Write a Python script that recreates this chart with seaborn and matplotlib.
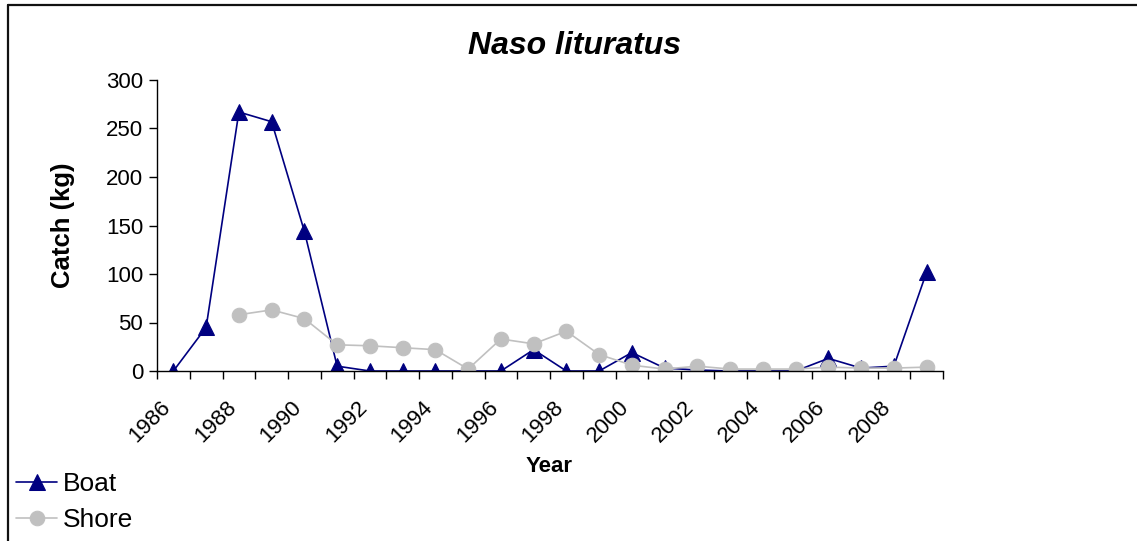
#!/usr/bin/env python3
import matplotlib
matplotlib.use("Agg")
import matplotlib.pyplot as plt
import matplotlib.transforms as mtransforms
import numpy as np
import pandas as pd
import seaborn as sns
from matplotlib.lines import Line2D

# Catch by year (kg)
years = list(range(1986, 2010))
boat = [0, 45, 267, 257, 144, 5, 0, 0, 0, 0, 0, 22, 0, 0, 19, 3, 1, 0, 0, 0, 13, 3, 5, 102]
shore_years = list(range(1988, 2010))
shore = [58, 63, 54, 27, 26, 24, 22, 2, 33, 28, 41, 17, 6, 2, 5, 2, 2, 2, 4, 3, 3, 4]

sns.set_theme(style="white")
plt.rcParams['font.family'] = ['Liberation Sans', 'DejaVu Sans']
plt.rcParams['text.color'] = 'black'
plt.rcParams['axes.labelcolor'] = 'black'
plt.rcParams['xtick.color'] = 'black'
plt.rcParams['ytick.color'] = 'black'

W, H = 1137, 541
boat_df = pd.DataFrame({"pos": [y - years[0] for y in years], "catch": boat})
shore_df = pd.DataFrame({"pos": [y - years[0] for y in shore_years], "catch": shore})

fig = plt.figure(figsize=(W / 100, H / 100), dpi=100)
ax = fig.add_axes([157 / W, 1 - 371 / H, (943 - 157) / W, (371 - 80) / H])

sns.lineplot(data=boat_df, x="pos", y="catch", ax=ax, color="#000080", marker="^",
             markersize=12, markeredgecolor="#000080", linewidth=1.2, label="Boat")
sns.lineplot(data=shore_df, x="pos", y="catch", ax=ax, color="#C0C0C0", marker="o",
             markersize=10.5, markeredgecolor="#C0C0C0", linewidth=1.2, label="Shore")

ax.set_xlim(-0.5, len(years) - 0.5)
ax.set_ylim(0, 300)
ax.set_yticks(np.arange(0, 301, 50))
ax.tick_params(axis="y", left=True, labelsize=16, length=6, width=1, direction="out", pad=4)

ax.set_xticks(range(len(years)))
ax.set_xticklabels([str(y) if y % 2 == 0 else "" for y in years], rotation=45,
                   ha="right", va="center", rotation_mode="anchor", fontsize=16)
ax.tick_params(axis="x", which="major", bottom=True, length=0, pad=24)
ax.set_xticks(np.arange(-0.5, len(years), 1), minor=True)
ax.tick_params(axis="x", which="minor", bottom=True, length=6, width=1, direction="out")
shift = mtransforms.ScaledTranslation(-6 / 100, 0, fig.dpi_scale_trans)
for lab in ax.get_xticklabels():
    lab.set_transform(lab.get_transform() + shift)

for side in ["top", "right"]:
    ax.spines[side].set_visible(False)
for side in ["left", "bottom"]:
    ax.spines[side].set_color("black")
    ax.spines[side].set_linewidth(1)

ax.set_xlabel("")
ax.set_ylabel("Catch (kg)", fontsize=18.5, fontweight="bold")
ax.yaxis.set_label_coords((75 - 157) / 786, 0.5)
fig.text(549 / W, 1 - 466 / H, "Year", fontsize=16, fontweight="bold", ha="center", va="center")
fig.text(575 / W, 1 - 46 / H, "Naso lituratus", fontsize=23, fontweight="bold",
         style="italic", ha="center", va="center")

ax.get_legend().remove()
handles, labels = ax.get_legend_handles_labels()
fig.legend(handles, labels, loc="upper left", bbox_to_anchor=(11 / W, 1 - 467 / H), frameon=False,
           fontsize=19, handlelength=1.55, handletextpad=0.2, labelspacing=0.45,
           borderaxespad=0, borderpad=0.2)

# border: top and left only, as in the reference crop
fig.add_artist(Line2D([8 / W, 1], [1 - 5 / H, 1 - 5 / H], transform=fig.transFigure,
                      color="#111111", linewidth=1.6))
fig.add_artist(Line2D([8 / W, 8 / W], [0, 1 - 5 / H], transform=fig.transFigure,
                      color="#111111", linewidth=1.6))

fig.savefig("out.png", dpi=100)
